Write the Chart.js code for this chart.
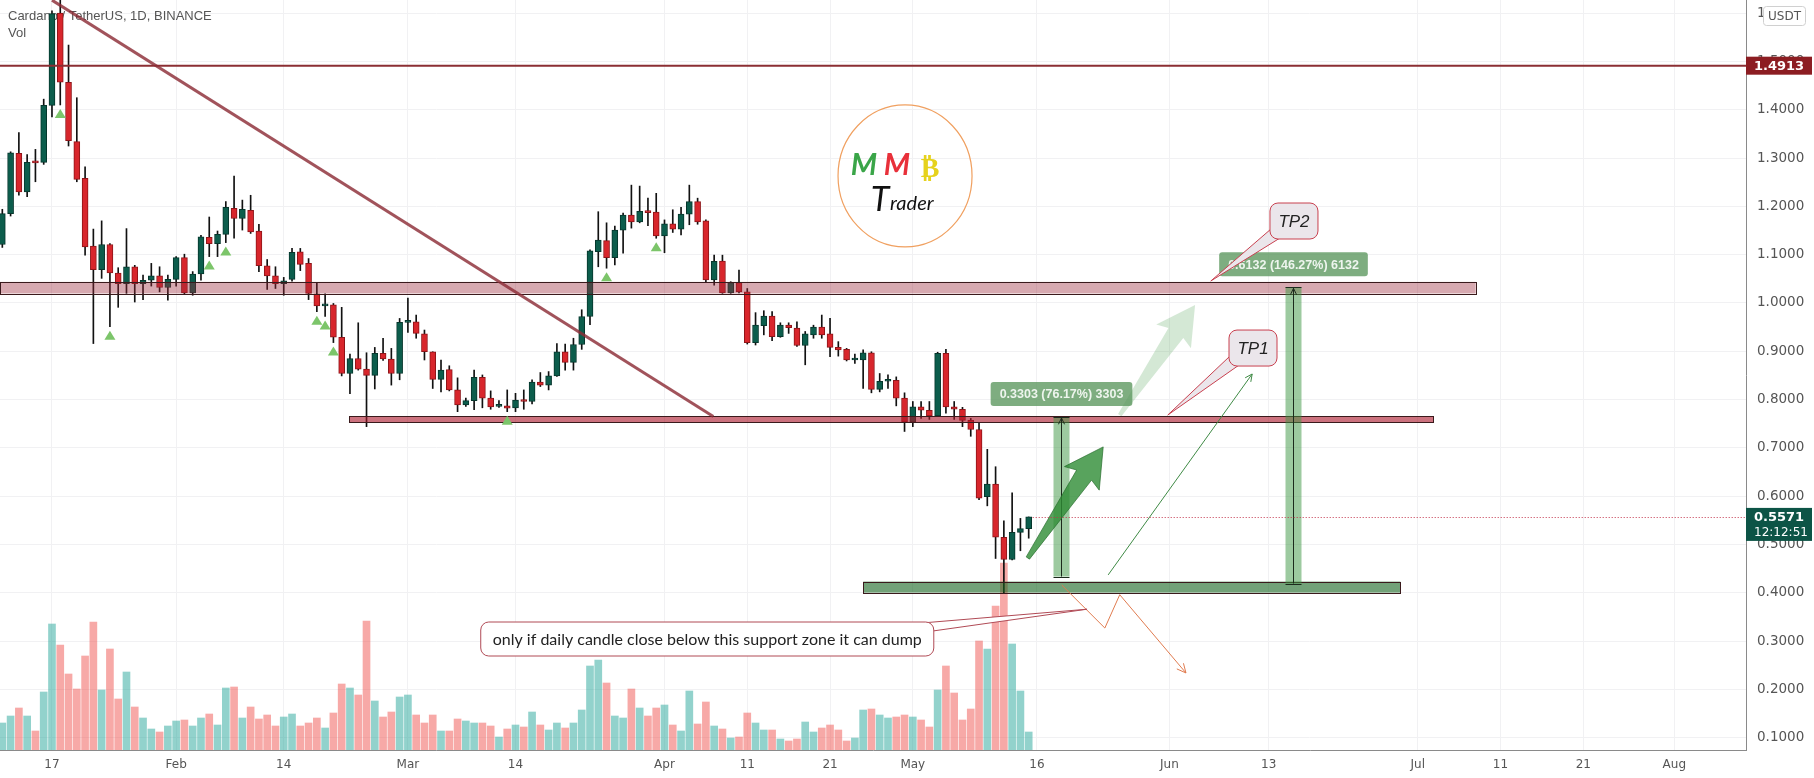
<!DOCTYPE html>
<html>
<head>
<meta charset="utf-8">
<script src="https://cdn.jsdelivr.net/npm/chart.js@4/dist/chart.umd.min.js"></script>
<style>
  html, body { margin: 0; padding: 0; background: #fff; }
  #wrap { width: 1814px; height: 778px; position: relative; }
</style>
</head>
<body>
<div id="wrap"><canvas id="chart"></canvas></div>
<script>
// ADA/USDT daily candles, first candle = day 11 of 2022 (Jan 11)
const firstDay = 11;
const opens = [1.121,1.185,1.310,1.230,1.292,1.291,1.409,1.600,1.457,1.334,
  1.258,1.118,1.069,1.121,1.062,1.040,1.075,1.040,1.047,1.056,
  1.032,1.049,1.094,1.021,1.060,1.136,1.123,1.142,1.196,1.175,
  1.192,1.149,1.077,1.056,1.040,1.049,1.106,1.082,1.019,0.994,
  0.996,0.929,0.854,0.885,0.863,0.850,0.896,0.884,0.854,0.960,
  0.961,0.936,0.899,0.842,0.862,0.820,0.789,0.798,0.846,0.803,
  0.786,0.787,0.783,0.800,0.796,0.836,0.830,0.849,0.899,0.877,
  0.914,0.972,1.106,1.129,1.094,1.151,1.182,1.168,1.190,1.188,
  1.139,1.164,1.153,1.184,1.210,1.170,1.048,1.087,1.021,1.042,
  1.023,0.918,0.953,0.973,0.930,0.954,0.948,0.912,0.934,0.950,
  0.936,0.908,0.904,0.882,0.882,0.897,0.821,0.838,0.840,0.803,
  0.754,0.785,0.778,0.766,0.896,0.785,0.780,0.757,0.738,0.599,
  0.625,0.515,0.469,0.525,0.533];
const highs = [1.194,1.313,1.353,1.307,1.318,1.422,1.605,1.640,1.534,1.425,
  1.282,1.153,1.170,1.123,1.073,1.154,1.078,1.058,1.082,1.075,
  1.058,1.096,1.101,1.065,1.140,1.178,1.149,1.210,1.263,1.213,
  1.223,1.163,1.090,1.075,1.053,1.113,1.113,1.092,1.042,1.019,
  0.999,0.991,0.894,0.959,0.897,0.908,0.927,0.906,0.968,1.010,
  0.975,0.944,0.899,0.882,0.870,0.845,0.803,0.861,0.851,0.818,
  0.798,0.820,0.813,0.820,0.841,0.856,0.858,0.916,0.915,0.927,
  0.986,1.110,1.189,1.166,1.159,1.186,1.244,1.242,1.217,1.227,
  1.172,1.193,1.198,1.244,1.217,1.172,1.099,1.099,1.044,1.068,
  1.030,0.980,0.984,0.982,0.959,0.959,0.961,0.941,0.954,0.975,
  0.968,0.920,0.906,0.894,0.903,0.899,0.854,0.851,0.847,0.814,
  0.796,0.796,0.796,0.898,0.904,0.796,0.784,0.761,0.751,0.697,
  0.661,0.549,0.607,0.554,0.557];
const lows = [1.115,1.180,1.223,1.220,1.251,1.287,1.385,1.410,1.325,1.251,
  1.099,0.916,1.051,0.951,0.991,1.020,1.002,1.007,1.035,1.023,
  1.006,1.035,1.018,1.016,1.047,1.096,1.096,1.125,1.134,1.151,
  1.144,1.065,1.028,1.030,1.016,1.045,1.067,1.007,0.982,0.972,
  0.918,0.849,0.812,0.861,0.744,0.822,0.881,0.830,0.841,0.939,
  0.927,0.882,0.823,0.816,0.818,0.775,0.786,0.779,0.783,0.780,
  0.784,0.775,0.775,0.780,0.791,0.827,0.820,0.848,0.861,0.861,
  0.904,0.955,1.075,1.072,1.079,1.103,1.155,1.166,1.160,1.134,
  1.104,1.146,1.141,1.162,1.163,1.044,1.037,1.020,1.020,1.021,
  0.915,0.913,0.934,0.922,0.929,0.937,0.910,0.872,0.927,0.927,
  0.889,0.890,0.880,0.875,0.823,0.814,0.816,0.823,0.787,0.734,
  0.744,0.761,0.759,0.765,0.772,0.759,0.744,0.724,0.593,0.580,
  0.471,0.400,0.468,0.487,0.513];
const closes = [1.185,1.311,1.230,1.291,1.290,1.409,1.599,1.457,1.336,1.256,
  1.116,1.069,1.121,1.062,1.040,1.075,1.040,1.047,1.056,1.032,
  1.049,1.094,1.021,1.060,1.137,1.123,1.142,1.198,1.175,1.194,
  1.147,1.077,1.056,1.040,1.046,1.105,1.080,1.020,0.994,0.995,
  0.929,0.854,0.885,0.863,0.850,0.896,0.884,0.854,0.960,0.961,
  0.937,0.899,0.842,0.861,0.820,0.789,0.798,0.846,0.803,0.785,
  0.787,0.782,0.799,0.796,0.836,0.830,0.849,0.899,0.877,0.914,
  0.972,1.108,1.130,1.094,1.151,1.182,1.168,1.190,1.187,1.139,
  1.164,1.153,1.184,1.210,1.168,1.048,1.086,1.021,1.042,1.023,
  0.918,0.954,0.973,0.930,0.954,0.949,0.912,0.936,0.950,0.934,
  0.908,0.903,0.882,0.884,0.897,0.821,0.838,0.839,0.803,0.754,
  0.785,0.778,0.766,0.896,0.785,0.780,0.757,0.738,0.596,0.625,
  0.515,0.469,0.525,0.533,0.5571];
// volume, millions of ADA (estimated)
const volumes = [108,136,168,136,76,232,504,420,304,244,
  376,512,240,404,204,312,172,128,84,72,
  96,116,120,96,128,144,100,248,252,128,
  172,124,140,96,132,144,96,108,128,88,
  148,264,248,220,516,196,132,152,212,220,
  140,108,140,76,76,124,116,108,108,96,
  52,84,100,92,152,100,80,108,88,108,
  160,336,360,268,136,128,244,168,136,168,
  180,100,76,236,104,192,96,84,48,52,
  148,108,80,80,44,36,44,112,72,88,
  100,80,36,48,160,164,140,128,132,140,
  132,120,92,240,336,228,120,164,436,404,
  576,748,424,236,72];
// candle indexes with a buy-signal triangle under them
const signalIdx = [7, 13, 25, 27, 38, 39, 40, 61, 73, 79];

const priceTicks = [0.1,0.2,0.3,0.4,0.5,0.6,0.7,0.8,0.9,1.0,1.1,1.2,1.3,1.4,1.5,1.6];
const dateTicks = [17, 32, 45, 60, 73, 91, 101, 111, 121, 136, 152, 164, 182, 192, 202, 213];
const dateLabels = ['17','Feb','14','Mar','14','Apr','11','21','May','16','Jun','13','Jul','11','21','Aug'];

const xMin = 10.72, xMax = 221.66;
const priceMin = 0.0745, priceMax = 1.6273;
const volMax = 3000;

// drawings on the chart (day of year, price)
const lastPrice = 0.5571;
const alertLevel = 1.4913;
const trendLine = [[17, 1.627], [96.9, 0.765]];
const upperZone = { x1: 10.7, x2: 189.0, top: 1.0437, bottom: 1.0197 };
const lowerZone = { x1: 52.9, x2: 183.85, top: 0.765, bottom: 0.753 };
const greenZone = { x1: 115.0, x2: 179.9, top: 0.4232, bottom: 0.4004 };
const measures = [
  { day: 138.9, from: 0.43363, to: 0.76393 },
  { day: 166.93, from: 0.41922, to: 1.03242 }
];
const darkArrow = [[134.9, 0.472], [144.0, 0.702]];
const lightArrow = [[146.0, 0.768], [155.1, 0.996]];
const thinArrow = [[144.6, 0.437], [162.0, 0.853]];
const dumpPath = [[139.0, 0.416], [144.2, 0.327], [146.0, 0.396], [154.0, 0.234]];
const callouts = [
  { text: 'TP1', at: [159.2, 0.944], tip: [151.8, 0.768] },
  { text: 'TP2', at: [164.15, 1.207], tip: [157.0, 1.0455] }
];
const note = { text: 'only if daily candle close below this support zone it can dump', at: [68.8, 0.3395], tip: [142.05, 0.366] };
const logoAt = [120.06, 1.263];

const days = opens.map((_, i) => firstDay + i);
const isUp = closes.map((c, i) => c >= opens[i]);

function drawArrow(ctx, x0, y0, x1, y1, fill, stroke) {
  const dx = x1 - x0, dy = y1 - y0, L = Math.hypot(dx, dy);
  const ux = dx / L, uy = dy / L, nx = -uy, ny = ux;
  const hl = 34, hw = 21, nw = 9, tw = 2;
  const bx = x1 - ux * hl, by = y1 - uy * hl;
  ctx.beginPath();
  ctx.moveTo(x0 + nx * tw, y0 + ny * tw);
  ctx.lineTo(bx + nx * nw, by + ny * nw);
  ctx.lineTo(bx + nx * hw - ux * 4, by + ny * hw - uy * 4);
  ctx.lineTo(x1, y1);
  ctx.lineTo(bx - nx * hw - ux * 4, by - ny * hw - uy * 4);
  ctx.lineTo(bx - nx * nw, by - ny * nw);
  ctx.lineTo(x0 - nx * tw, y0 - ny * tw);
  ctx.closePath();
  ctx.fillStyle = fill;
  ctx.fill();
  if (stroke) { ctx.strokeStyle = stroke; ctx.lineWidth = 1; ctx.stroke(); }
}

function chevron(ctx, x0, y0, x1, y1, len) {
  const a = Math.atan2(y1 - y0, x1 - x0);
  ctx.beginPath();
  ctx.moveTo(x1 - len * Math.cos(a - 0.45), y1 - len * Math.sin(a - 0.45));
  ctx.lineTo(x1, y1);
  ctx.lineTo(x1 - len * Math.cos(a + 0.45), y1 - len * Math.sin(a + 0.45));
  ctx.stroke();
}

function roundRect(ctx, x, y, w, h, r) {
  ctx.beginPath();
  ctx.moveTo(x + r, y);
  ctx.arcTo(x + w, y, x + w, y + h, r);
  ctx.arcTo(x + w, y + h, x, y + h, r);
  ctx.arcTo(x, y + h, x, y, r);
  ctx.arcTo(x, y, x + w, y, r);
  ctx.closePath();
}

function callout(ctx, x, y, w, h, base, tip, fill, border) {
  ctx.beginPath();
  ctx.moveTo(base[0][0], base[0][1]);
  ctx.lineTo(tip[0], tip[1]);
  ctx.lineTo(base[1][0], base[1][1]);
  ctx.closePath();
  ctx.fillStyle = fill; ctx.fill();
  ctx.strokeStyle = border; ctx.lineWidth = 1; ctx.stroke();
  roundRect(ctx, x, y, w, h, 8);
  ctx.fill(); ctx.stroke();
}

const overlay = {
  id: 'overlay',
  beforeDatasetsDraw(chart) {
    const ctx = chart.ctx;
    ctx.save();
    ctx.fillStyle = '#555';
    ctx.font = '13px "Liberation Sans"';
    ctx.textBaseline = 'alphabetic';
    ctx.fillText('Cardano / TetherUS, 1D, BINANCE', 8, 20);
    ctx.fillText('Vol', 8, 37);
    ctx.restore();
  },
  afterDatasetsDraw(chart) {
    const { ctx, chartArea: a, scales: { x, y } } = chart;
    const X = d => x.getPixelForValue(d), Y = p => y.getPixelForValue(p);
    ctx.save();
    ctx.beginPath();
    ctx.rect(a.left, a.top, a.right - a.left, a.bottom - a.top);
    ctx.clip();

    // zones
    const zone = (z, fill) => {
      const x1 = X(z.x1), x2 = X(z.x2), y1 = Y(z.top), y2 = Y(z.bottom);
      ctx.fillStyle = fill;
      ctx.fillRect(x1, y1, x2 - x1, y2 - y1);
      ctx.strokeStyle = '#3a1a1c'; ctx.lineWidth = 1;
      ctx.strokeRect(Math.round(x1) + 0.5, Math.round(y1) + 0.5, Math.round(x2 - x1), Math.round(y2 - y1));
    };
    zone(upperZone, 'rgba(156,39,58,0.4)');
    zone(lowerZone, 'rgba(170,20,40,0.6)');
    zone(greenZone, 'rgba(20,100,30,0.6)');

    // alert level line
    ctx.strokeStyle = '#8b2e33'; ctx.lineWidth = 2;
    ctx.beginPath(); ctx.moveTo(a.left, Y(alertLevel)); ctx.lineTo(a.right, Y(alertLevel)); ctx.stroke();

    // trend line
    ctx.strokeStyle = 'rgba(140,45,55,0.82)'; ctx.lineWidth = 3;
    ctx.beginPath();
    ctx.moveTo(X(trendLine[0][0]), Y(trendLine[0][1]));
    ctx.lineTo(X(trendLine[1][0]), Y(trendLine[1][1]));
    ctx.stroke();

    // signal triangles
    ctx.fillStyle = '#7cc56a';
    signalIdx.forEach(i => {
      const cx = X(days[i]), ty = Y(lows[i]) + 4;
      ctx.beginPath();
      ctx.moveTo(cx, ty); ctx.lineTo(cx + 5.5, ty + 9); ctx.lineTo(cx - 5.5, ty + 9);
      ctx.closePath(); ctx.fill();
    });

    // light arrow
    drawArrow(ctx, X(lightArrow[0][0]), Y(lightArrow[0][1]), X(lightArrow[1][0]), Y(lightArrow[1][1]), 'rgba(60,150,65,0.22)', null);

    // measure bars
    measures.forEach(m => {
      const cx = Math.round(X(m.day)) + 0.5, yt = Y(m.to), yb = Y(m.from);
      ctx.fillStyle = 'rgba(60,150,65,0.5)';
      ctx.fillRect(cx - 8, yt, 16, yb - yt);
      ctx.strokeStyle = '#1c2a1c'; ctx.lineWidth = 1;
      ctx.beginPath();
      ctx.moveTo(cx, yb); ctx.lineTo(cx, yt);
      ctx.moveTo(cx - 8, Math.round(yt) + 0.5); ctx.lineTo(cx + 8, Math.round(yt) + 0.5);
      ctx.moveTo(cx - 8, Math.round(yb) + 0.5); ctx.lineTo(cx + 8, Math.round(yb) + 0.5);
      ctx.stroke();
      chevron(ctx, cx, yb, cx, yt + 1, 7);
      const diff = m.to - m.from;
      const label = diff.toFixed(4) + ' (' + (diff / m.from * 100).toFixed(2) + '%) ' + Math.round(diff * 10000);
      ctx.font = 'bold 12.5px "Liberation Sans"';
      const tw = ctx.measureText(label).width;
      const bw = tw + 18, bh = 24, by = yt - 11 - bh;
      ctx.fillStyle = 'rgba(90,150,92,0.78)';
      roundRect(ctx, cx - bw / 2, by, bw, bh, 3);
      ctx.fill();
      ctx.fillStyle = '#eef5ee';
      ctx.textAlign = 'center'; ctx.textBaseline = 'middle';
      ctx.fillText(label, cx, by + bh / 2 + 1);
    });

    drawArrow(ctx, X(darkArrow[0][0]), Y(darkArrow[0][1]), X(darkArrow[1][0]), Y(darkArrow[1][1]), 'rgba(46,140,52,0.8)', 'rgba(40,110,45,0.7)');

    // thin arrow
    ctx.strokeStyle = '#3f8a45'; ctx.lineWidth = 1;
    const t0 = [X(thinArrow[0][0]), Y(thinArrow[0][1])], t1 = [X(thinArrow[1][0]), Y(thinArrow[1][1])];
    ctx.beginPath(); ctx.moveTo(t0[0], t0[1]); ctx.lineTo(t1[0], t1[1]); ctx.stroke();
    chevron(ctx, t0[0], t0[1], t1[0], t1[1], 8);

    // dump path
    ctx.strokeStyle = '#e07b4f'; ctx.lineWidth = 1;
    ctx.beginPath();
    dumpPath.forEach((p, i) => { const px = X(p[0]), py = Y(p[1]); if (i) ctx.lineTo(px, py); else ctx.moveTo(px, py); });
    ctx.stroke();
    const dp = dumpPath.length;
    chevron(ctx, X(dumpPath[dp - 2][0]), Y(dumpPath[dp - 2][1]), X(dumpPath[dp - 1][0]), Y(dumpPath[dp - 1][1]), 10);

    // last price line
    ctx.strokeStyle = '#c2324a'; ctx.setLineDash([1, 2]);
    const ly = Math.round(Y(lastPrice)) + 0.5;
    ctx.beginPath(); ctx.moveTo(X(days[days.length - 1]) + 4, ly); ctx.lineTo(a.right, ly); ctx.stroke();
    ctx.setLineDash([]);

    // TP callouts
    callouts.forEach(c => {
      const bx = X(c.at[0]), by = Y(c.at[1]), w = 48, h = 36;
      callout(ctx, bx, by, w, h, [[bx + 10, by + h - 1], [bx + 1, by + h - 10]], [X(c.tip[0]), Y(c.tip[1])], '#ebe6eb', '#c8404f');
      ctx.fillStyle = '#222';
      ctx.font = 'italic 17px "Liberation Sans"';
      ctx.textAlign = 'center'; ctx.textBaseline = 'middle';
      ctx.fillText(c.text, bx + w / 2, by + h / 2 + 1);
    });

    // note callout
    ctx.font = '16px "Lato"';
    const nw = ctx.measureText(note.text).width + 24, nh = 34;
    const nx = X(note.at[0]), ny = Y(note.at[1]);
    callout(ctx, nx, ny, nw, nh, [[nx + nw - 12, ny + 1], [nx + nw - 1, ny + 9]], [X(note.tip[0]), Y(note.tip[1])], '#fff', '#b04a55');
    ctx.fillStyle = '#222';
    ctx.textAlign = 'left'; ctx.textBaseline = 'middle';
    ctx.fillText(note.text, nx + 12, ny + nh / 2 + 1);

    // logo
    const lx = X(logoAt[0]), lyc = Y(logoAt[1]);
    ctx.strokeStyle = '#f0a060'; ctx.lineWidth = 1.2;
    ctx.beginPath(); ctx.ellipse(lx, lyc, 67, 71, 0, 0, Math.PI * 2); ctx.stroke();
    ctx.textAlign = 'center'; ctx.textBaseline = 'alphabetic';
    ctx.font = 'italic 700 30px "Lato"';
    ctx.fillStyle = '#3aa548'; ctx.fillText('M', lx - 41, lyc - 1);
    ctx.fillStyle = '#e8303a'; ctx.fillText('M', lx - 8, lyc - 1);
    ctx.font = 'bold 28px "DejaVu Sans"';
    ctx.fillStyle = '#e6d21c'; ctx.fillText('\u20BF', lx + 25, lyc + 1);
    ctx.fillStyle = '#111';
    ctx.font = 'italic 34px "Lato"';
    ctx.fillText('T', lx - 25, lyc + 35);
    ctx.font = 'italic 20px "Lato"';
    ctx.textAlign = 'left';
    ctx.fillText('rader', lx - 15, lyc + 34);

    ctx.restore();
  },
  afterDraw(chart) {
    const { ctx, chartArea: a, scales: { y } } = chart;
    const Y = p => y.getPixelForValue(p);
    ctx.save();
    // USDT unit box
    ctx.fillStyle = '#fff';
    roundRect(ctx, a.right + 17.5, 6.5, 42, 19, 3);
    ctx.fill();
    ctx.strokeStyle = '#d0d0d0'; ctx.lineWidth = 1; ctx.stroke();
    ctx.fillStyle = '#555'; ctx.font = '12px "DejaVu Sans"';
    ctx.textAlign = 'center'; ctx.textBaseline = 'middle';
    ctx.fillText('USDT', a.right + 38.5, 16.5);
    // alert price label
    const ay = Y(alertLevel);
    ctx.fillStyle = '#8c1d22';
    ctx.fillRect(a.right, ay - 9, 66, 18);
    ctx.fillStyle = '#fff'; ctx.font = 'bold 13px "DejaVu Sans"';
    ctx.textAlign = 'left';
    ctx.fillText(alertLevel.toFixed(4), a.right + 8, ay + 1);
    // last price label
    const py = Y(lastPrice);
    ctx.fillStyle = '#0d5446';
    ctx.fillRect(a.right, py - 9, 66, 33);
    ctx.fillStyle = '#fff';
    ctx.fillText(lastPrice.toFixed(4), a.right + 8, py + 1);
    ctx.font = '12px "DejaVu Sans"';
    ctx.fillText('12:12:51', a.right + 8, py + 16);
    ctx.restore();
  }
};

new Chart(document.getElementById('chart'), {
  type: 'bar',
  data: {
    datasets: [
      {
        label: 'Vol',
        data: days.map((d, i) => ({ x: d, y: volumes[i] })),
        yAxisID: 'yv',
        backgroundColor: isUp.map(u => u ? 'rgba(38,166,154,0.5)' : 'rgba(239,83,80,0.5)'),
        barThickness: 7,
        grouped: false,
        order: 3
      },
      {
        label: 'wick',
        data: days.map((d, i) => ({ x: d, y: [lows[i], highs[i]] })),
        yAxisID: 'y',
        backgroundColor: '#111',
        barThickness: 1,
        grouped: false,
        order: 2
      },
      {
        label: 'body',
        data: days.map((d, i) => ({ x: d, y: [Math.min(opens[i], closes[i]), Math.max(opens[i], closes[i])] })),
        yAxisID: 'y',
        backgroundColor: isUp.map(u => u ? '#0c5d4c' : '#d8262c'),
        borderColor: isUp.map(u => u ? '#06362c' : '#8e1418'),
        borderWidth: 1,
        borderSkipped: false,
        barThickness: 6,
        minBarLength: 2,
        grouped: false,
        order: 1
      }
    ]
  },
  options: {
    responsive: true,
    maintainAspectRatio: false,
    devicePixelRatio: 1,
    animation: false,
    events: [],
    layout: { padding: 0 },
    plugins: { legend: { display: false }, tooltip: { enabled: false } },
    scales: {
      x: {
        type: 'linear',
        min: xMin,
        max: xMax,
        offset: false,
        grid: { color: '#f1f1f3', drawTicks: false, offset: false },
        border: { color: '#8a8a8a' },
        ticks: {
          autoSkip: false, maxRotation: 0, padding: 8,
          color: '#555', font: { family: 'DejaVu Sans', size: 12 },
          callback: v => dateLabels[dateTicks.indexOf(v)]
        },
        afterBuildTicks: s => { s.ticks = dateTicks.map(v => ({ value: v })); },
        afterFit: s => { s.height = 28; s.paddingLeft = 0; s.paddingRight = 0; }
      },
      y: {
        position: 'right',
        min: priceMin,
        max: priceMax,
        grid: { color: '#f1f1f3', drawTicks: false },
        border: { color: '#8a8a8a' },
        ticks: {
          padding: 11, color: '#555', font: { family: 'DejaVu Sans', size: 13.5 },
          callback: v => v.toFixed(4)
        },
        afterBuildTicks: s => { s.ticks = priceTicks.map(v => ({ value: v })); },
        afterFit: s => { s.width = 68; s.paddingTop = 0; s.paddingBottom = 0; }
      },
      yv: { display: false, min: 0, max: volMax }
    }
  },
  plugins: [overlay]
});
</script>
</body>
</html>
